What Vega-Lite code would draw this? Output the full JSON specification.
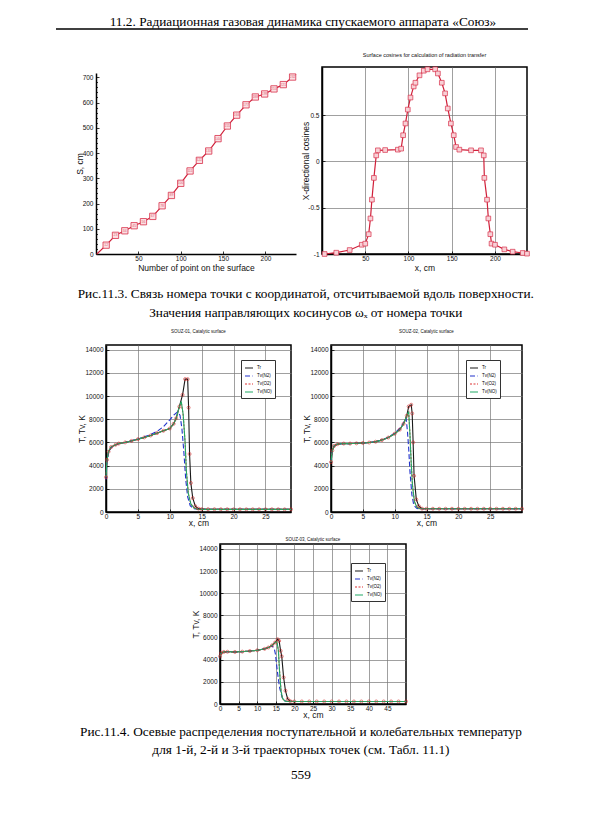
{
"$schema": "https://vega.github.io/schema/vega-lite/v6.json",
"background": "white",
"padding": {"left": 55, "top": 15, "right": 5, "bottom": 5},
"config": {
  "view": {"stroke": null},
  "font": "Liberation Sans",
  "axis": {"labelFont": "Liberation Sans", "labelFontSize": 6.5, "labelColor": "#111", "titleFont": "Liberation Sans", "titleFontSize": 8.5, "titleFontWeight": "normal", "titleColor": "#111", "domainColor": "#000", "domainWidth": 1.5, "tickColor": "#000", "tickWidth": 0.8, "tickSize": -3, "gridColor": "#777", "gridWidth": 0.7, "gridOpacity": 1, "labelFlush": false},
  "axisX": {"labelPadding": 4, "titlePadding": -1},
  "axisY": {"labelPadding": 6, "titlePadding": -2},
  "title": {"font": "Liberation Sans", "fontWeight": "normal", "color": "#111", "anchor": "middle"}
},
"spacing": 8,
"bounds": "full",
"resolve": {"scale": {"color": "independent", "strokeDash": "independent"}, "legend": {"color": "independent", "strokeDash": "independent"}},
"datasets": {
  "c1": [
    {"n": 1, "S": 0, "m": 0},
    {"n": 12, "S": 35, "m": 1},
    {"n": 23, "S": 74, "m": 1},
    {"n": 34, "S": 92, "m": 1},
    {"n": 45, "S": 112, "m": 1},
    {"n": 56, "S": 128, "m": 1},
    {"n": 67, "S": 149, "m": 1},
    {"n": 78, "S": 191, "m": 1},
    {"n": 89, "S": 232, "m": 1},
    {"n": 100, "S": 280, "m": 1},
    {"n": 111, "S": 329, "m": 1},
    {"n": 122, "S": 371, "m": 1},
    {"n": 133, "S": 408, "m": 1},
    {"n": 144, "S": 457, "m": 1},
    {"n": 155, "S": 507, "m": 1},
    {"n": 166, "S": 550, "m": 1},
    {"n": 177, "S": 591, "m": 1},
    {"n": 188, "S": 622, "m": 1},
    {"n": 199, "S": 634, "m": 1},
    {"n": 210, "S": 654, "m": 1},
    {"n": 221, "S": 671, "m": 1},
    {"n": 232, "S": 701, "m": 1},
    {"n": 236, "S": 712, "m": 0}
  ],
  "c2": [
    {"x": 3, "c": -1.0}, {"x": 16.5, "c": -0.986}, {"x": 32, "c": -0.957}, {"x": 46, "c": -0.9}, {"x": 50, "c": -0.888},
    {"x": 54, "c": -0.786}, {"x": 56, "c": -0.616}, {"x": 57.7, "c": -0.413}, {"x": 60, "c": -0.178}, {"x": 62.7, "c": 0.065},
    {"x": 64.6, "c": 0.12}, {"x": 73, "c": 0.123}, {"x": 87.7, "c": 0.127}, {"x": 91.5, "c": 0.138}, {"x": 93.8, "c": 0.283},
    {"x": 96.5, "c": 0.41}, {"x": 99.2, "c": 0.56}, {"x": 102.3, "c": 0.69}, {"x": 106, "c": 0.81}, {"x": 108, "c": 0.85},
    {"x": 112.7, "c": 0.93}, {"x": 117.7, "c": 0.98}, {"x": 122, "c": 0.995}, {"x": 130.8, "c": 0.995}, {"x": 134, "c": 0.95},
    {"x": 138.5, "c": 0.85}, {"x": 142.3, "c": 0.735}, {"x": 145.4, "c": 0.572}, {"x": 149, "c": 0.41}, {"x": 152.3, "c": 0.283},
    {"x": 155, "c": 0.156}, {"x": 158.8, "c": 0.127}, {"x": 172.3, "c": 0.12}, {"x": 183.8, "c": 0.12}, {"x": 187, "c": 0.065},
    {"x": 187.7, "c": -0.178}, {"x": 190.8, "c": -0.413}, {"x": 192.3, "c": -0.616}, {"x": 194.6, "c": -0.786}, {"x": 196, "c": -0.888},
    {"x": 200, "c": -0.9}, {"x": 210.8, "c": -0.95}, {"x": 220.4, "c": -0.975}, {"x": 232, "c": -0.989}, {"x": 237, "c": -0.996}
  ],
  "t3": [
    {"s":"Tr","x":0,"t":3000},{"s":"Tr","x":0.15,"t":4500},{"s":"Tr","x":0.4,"t":5200},{"s":"Tr","x":0.8,"t":5600},{"s":"Tr","x":1.5,"t":5800},{"s":"Tr","x":2,"t":5900},{"s":"Tr","x":3,"t":6000},{"s":"Tr","x":4,"t":6130},{"s":"Tr","x":5,"t":6280},{"s":"Tr","x":6,"t":6430},{"s":"Tr","x":7,"t":6600},{"s":"Tr","x":8,"t":6800},{"s":"Tr","x":9,"t":7000},{"s":"Tr","x":10,"t":7200},{"s":"Tr","x":10.6,"t":7600},{"s":"Tr","x":11,"t":8080},{"s":"Tr","x":11.5,"t":9090},{"s":"Tr","x":12,"t":10100},{"s":"Tr","x":12.4,"t":11460},{"s":"Tr","x":12.8,"t":11460},{"s":"Tr","x":12.95,"t":9000},{"s":"Tr","x":13.1,"t":5000},{"s":"Tr","x":13.3,"t":2500},{"s":"Tr","x":13.6,"t":1200},{"s":"Tr","x":14,"t":500},{"s":"Tr","x":14.5,"t":290},{"s":"Tr","x":15,"t":250},{"s":"Tr","x":16,"t":240},{"s":"Tr","x":17,"t":240},{"s":"Tr","x":18,"t":235},{"s":"Tr","x":19,"t":235},{"s":"Tr","x":20,"t":230},{"s":"Tr","x":21,"t":230},{"s":"Tr","x":22,"t":230},{"s":"Tr","x":23,"t":230},{"s":"Tr","x":24,"t":230},{"s":"Tr","x":25,"t":230},{"s":"Tr","x":26,"t":230},{"s":"Tr","x":27,"t":230},{"s":"Tr","x":28,"t":230},{"s":"Tr","x":29,"t":230},
    {"s":"Tv(N2)","x":0,"t":2800},{"s":"Tv(N2)","x":0.15,"t":4300},{"s":"Tv(N2)","x":0.4,"t":5100},{"s":"Tv(N2)","x":0.8,"t":5550},{"s":"Tv(N2)","x":1.5,"t":5780},{"s":"Tv(N2)","x":2,"t":5880},{"s":"Tv(N2)","x":3,"t":6000},{"s":"Tv(N2)","x":4,"t":6150},{"s":"Tv(N2)","x":5,"t":6300},{"s":"Tv(N2)","x":6,"t":6480},{"s":"Tv(N2)","x":7,"t":6680},{"s":"Tv(N2)","x":8,"t":6950},{"s":"Tv(N2)","x":9,"t":7350},{"s":"Tv(N2)","x":10,"t":7950},{"s":"Tv(N2)","x":10.7,"t":8400},{"s":"Tv(N2)","x":11.2,"t":8620},{"s":"Tv(N2)","x":11.6,"t":8350},{"s":"Tv(N2)","x":11.9,"t":7200},{"s":"Tv(N2)","x":12.2,"t":5200},{"s":"Tv(N2)","x":12.5,"t":2800},{"s":"Tv(N2)","x":12.8,"t":1300},{"s":"Tv(N2)","x":13.2,"t":550},{"s":"Tv(N2)","x":13.7,"t":290},{"s":"Tv(N2)","x":14.5,"t":240},{"s":"Tv(N2)","x":16,"t":230},{"s":"Tv(N2)","x":29,"t":230},
    {"s":"Tv(O2)","x":0,"t":3000},{"s":"Tv(O2)","x":0.15,"t":4450},{"s":"Tv(O2)","x":0.4,"t":5180},{"s":"Tv(O2)","x":0.8,"t":5600},{"s":"Tv(O2)","x":1.5,"t":5800},{"s":"Tv(O2)","x":2,"t":5900},{"s":"Tv(O2)","x":3,"t":6000},{"s":"Tv(O2)","x":4,"t":6130},{"s":"Tv(O2)","x":5,"t":6280},{"s":"Tv(O2)","x":6,"t":6430},{"s":"Tv(O2)","x":7,"t":6600},{"s":"Tv(O2)","x":8,"t":6800},{"s":"Tv(O2)","x":9,"t":7000},{"s":"Tv(O2)","x":10,"t":7200},{"s":"Tv(O2)","x":10.6,"t":7600},{"s":"Tv(O2)","x":11,"t":8080},{"s":"Tv(O2)","x":11.5,"t":9050},{"s":"Tv(O2)","x":11.8,"t":9450},{"s":"Tv(O2)","x":12.1,"t":8350},{"s":"Tv(O2)","x":12.4,"t":6000},{"s":"Tv(O2)","x":12.6,"t":3500},{"s":"Tv(O2)","x":12.9,"t":1600},{"s":"Tv(O2)","x":13.3,"t":700},{"s":"Tv(O2)","x":13.8,"t":350},{"s":"Tv(O2)","x":14.4,"t":230},{"s":"Tv(O2)","x":29,"t":230},
    {"s":"Tv(NO)","x":0,"t":3000},{"s":"Tv(NO)","x":0.15,"t":4500},{"s":"Tv(NO)","x":0.4,"t":5200},{"s":"Tv(NO)","x":0.8,"t":5600},{"s":"Tv(NO)","x":1.5,"t":5800},{"s":"Tv(NO)","x":2,"t":5900},{"s":"Tv(NO)","x":3,"t":6000},{"s":"Tv(NO)","x":4,"t":6130},{"s":"Tv(NO)","x":5,"t":6280},{"s":"Tv(NO)","x":6,"t":6430},{"s":"Tv(NO)","x":7,"t":6600},{"s":"Tv(NO)","x":8,"t":6800},{"s":"Tv(NO)","x":9,"t":7000},{"s":"Tv(NO)","x":10,"t":7200},{"s":"Tv(NO)","x":10.6,"t":7600},{"s":"Tv(NO)","x":11,"t":8080},{"s":"Tv(NO)","x":11.5,"t":9090},{"s":"Tv(NO)","x":11.8,"t":9530},{"s":"Tv(NO)","x":12.1,"t":8400},{"s":"Tv(NO)","x":12.4,"t":6000},{"s":"Tv(NO)","x":12.6,"t":3500},{"s":"Tv(NO)","x":12.9,"t":1600},{"s":"Tv(NO)","x":13.3,"t":700},{"s":"Tv(NO)","x":13.8,"t":350},{"s":"Tv(NO)","x":14.4,"t":230},{"s":"Tv(NO)","x":29,"t":230}
  ],
  "t4": [
    {"s":"Tr","x":0,"t":4300},{"s":"Tr","x":0.2,"t":5300},{"s":"Tr","x":0.5,"t":5700},{"s":"Tr","x":1,"t":5850},{"s":"Tr","x":2,"t":5900},{"s":"Tr","x":3,"t":5900},{"s":"Tr","x":4,"t":5920},{"s":"Tr","x":5,"t":5950},{"s":"Tr","x":6,"t":5990},{"s":"Tr","x":7,"t":6060},{"s":"Tr","x":8,"t":6200},{"s":"Tr","x":9,"t":6420},{"s":"Tr","x":10,"t":6750},{"s":"Tr","x":10.8,"t":7100},{"s":"Tr","x":11.4,"t":7600},{"s":"Tr","x":11.9,"t":8300},{"s":"Tr","x":12.2,"t":9100},{"s":"Tr","x":12.6,"t":9250},{"s":"Tr","x":12.75,"t":8500},{"s":"Tr","x":12.9,"t":6000},{"s":"Tr","x":13.05,"t":3120},{"s":"Tr","x":13.4,"t":1080},{"s":"Tr","x":13.8,"t":500},{"s":"Tr","x":14.3,"t":290},{"s":"Tr","x":15,"t":280},{"s":"Tr","x":16,"t":280},{"s":"Tr","x":17,"t":280},{"s":"Tr","x":18,"t":280},{"s":"Tr","x":19,"t":280},{"s":"Tr","x":20,"t":280},{"s":"Tr","x":21,"t":280},{"s":"Tr","x":22,"t":280},{"s":"Tr","x":23,"t":280},{"s":"Tr","x":24,"t":280},{"s":"Tr","x":25,"t":280},{"s":"Tr","x":26,"t":280},{"s":"Tr","x":27,"t":280},{"s":"Tr","x":28,"t":280},{"s":"Tr","x":29,"t":280},{"s":"Tr","x":30,"t":280},
    {"s":"Tv(N2)","x":0,"t":4300},{"s":"Tv(N2)","x":0.2,"t":5300},{"s":"Tv(N2)","x":0.5,"t":5700},{"s":"Tv(N2)","x":1,"t":5850},{"s":"Tv(N2)","x":2,"t":5900},{"s":"Tv(N2)","x":3,"t":5900},{"s":"Tv(N2)","x":4,"t":5920},{"s":"Tv(N2)","x":5,"t":5950},{"s":"Tv(N2)","x":6,"t":5990},{"s":"Tv(N2)","x":7,"t":6070},{"s":"Tv(N2)","x":8,"t":6220},{"s":"Tv(N2)","x":9,"t":6450},{"s":"Tv(N2)","x":10,"t":6800},{"s":"Tv(N2)","x":10.8,"t":7200},{"s":"Tv(N2)","x":11.4,"t":7700},{"s":"Tv(N2)","x":11.8,"t":8100},{"s":"Tv(N2)","x":12,"t":7000},{"s":"Tv(N2)","x":12.2,"t":5500},{"s":"Tv(N2)","x":12.4,"t":3500},{"s":"Tv(N2)","x":12.7,"t":1500},{"s":"Tv(N2)","x":13,"t":600},{"s":"Tv(N2)","x":13.5,"t":300},{"s":"Tv(N2)","x":14,"t":280},{"s":"Tv(N2)","x":30,"t":280},
    {"s":"Tv(O2)","x":0,"t":4300},{"s":"Tv(O2)","x":0.2,"t":5300},{"s":"Tv(O2)","x":0.5,"t":5700},{"s":"Tv(O2)","x":1,"t":5850},{"s":"Tv(O2)","x":2,"t":5900},{"s":"Tv(O2)","x":5,"t":5950},{"s":"Tv(O2)","x":7,"t":6060},{"s":"Tv(O2)","x":8,"t":6200},{"s":"Tv(O2)","x":9,"t":6420},{"s":"Tv(O2)","x":10,"t":6750},{"s":"Tv(O2)","x":10.8,"t":7100},{"s":"Tv(O2)","x":11.4,"t":7600},{"s":"Tv(O2)","x":11.9,"t":8300},{"s":"Tv(O2)","x":12.2,"t":8600},{"s":"Tv(O2)","x":12.4,"t":6700},{"s":"Tv(O2)","x":12.6,"t":4200},{"s":"Tv(O2)","x":12.8,"t":2300},{"s":"Tv(O2)","x":13.1,"t":900},{"s":"Tv(O2)","x":13.5,"t":400},{"s":"Tv(O2)","x":14,"t":280},{"s":"Tv(O2)","x":30,"t":280},
    {"s":"Tv(NO)","x":0,"t":4300},{"s":"Tv(NO)","x":0.2,"t":5300},{"s":"Tv(NO)","x":0.5,"t":5700},{"s":"Tv(NO)","x":1,"t":5850},{"s":"Tv(NO)","x":2,"t":5900},{"s":"Tv(NO)","x":3,"t":5900},{"s":"Tv(NO)","x":4,"t":5920},{"s":"Tv(NO)","x":5,"t":5950},{"s":"Tv(NO)","x":6,"t":5990},{"s":"Tv(NO)","x":7,"t":6060},{"s":"Tv(NO)","x":8,"t":6200},{"s":"Tv(NO)","x":9,"t":6420},{"s":"Tv(NO)","x":10,"t":6750},{"s":"Tv(NO)","x":10.8,"t":7100},{"s":"Tv(NO)","x":11.4,"t":7600},{"s":"Tv(NO)","x":11.9,"t":8300},{"s":"Tv(NO)","x":12.2,"t":8660},{"s":"Tv(NO)","x":12.4,"t":6700},{"s":"Tv(NO)","x":12.6,"t":4200},{"s":"Tv(NO)","x":12.8,"t":2300},{"s":"Tv(NO)","x":13.1,"t":900},{"s":"Tv(NO)","x":13.5,"t":400},{"s":"Tv(NO)","x":14,"t":280},{"s":"Tv(NO)","x":30,"t":280}
  ],
  "t5": [
    {"s":"Tr","x":0,"t":4300},{"s":"Tr","x":0.3,"t":4600},{"s":"Tr","x":1,"t":4700},{"s":"Tr","x":2,"t":4720},{"s":"Tr","x":4,"t":4700},{"s":"Tr","x":6,"t":4730},{"s":"Tr","x":8,"t":4780},{"s":"Tr","x":10,"t":4850},{"s":"Tr","x":12,"t":4980},{"s":"Tr","x":13,"t":5100},{"s":"Tr","x":14,"t":5300},{"s":"Tr","x":14.8,"t":5550},{"s":"Tr","x":15.5,"t":5850},{"s":"Tr","x":15.9,"t":5700},{"s":"Tr","x":16.3,"t":4800},{"s":"Tr","x":16.6,"t":4300},{"s":"Tr","x":17.1,"t":2400},{"s":"Tr","x":17.6,"t":1200},{"s":"Tr","x":18.2,"t":450},{"s":"Tr","x":18.9,"t":260},{"s":"Tr","x":20,"t":230},{"s":"Tr","x":22,"t":230},{"s":"Tr","x":24,"t":230},{"s":"Tr","x":26,"t":230},{"s":"Tr","x":28,"t":230},{"s":"Tr","x":30,"t":230},{"s":"Tr","x":32,"t":230},{"s":"Tr","x":34,"t":230},{"s":"Tr","x":36,"t":230},{"s":"Tr","x":38,"t":230},{"s":"Tr","x":40,"t":230},{"s":"Tr","x":42,"t":230},{"s":"Tr","x":44,"t":230},{"s":"Tr","x":46,"t":230},{"s":"Tr","x":48,"t":230},{"s":"Tr","x":50,"t":230},
    {"s":"Tv(N2)","x":0,"t":4300},{"s":"Tv(N2)","x":0.3,"t":4600},{"s":"Tv(N2)","x":1,"t":4700},{"s":"Tv(N2)","x":2,"t":4720},{"s":"Tv(N2)","x":4,"t":4700},{"s":"Tv(N2)","x":6,"t":4730},{"s":"Tv(N2)","x":8,"t":4780},{"s":"Tv(N2)","x":10,"t":4850},{"s":"Tv(N2)","x":12,"t":4980},{"s":"Tv(N2)","x":13,"t":5100},{"s":"Tv(N2)","x":14,"t":5250},{"s":"Tv(N2)","x":14.6,"t":5000},{"s":"Tv(N2)","x":14.9,"t":4500},{"s":"Tv(N2)","x":15.4,"t":3000},{"s":"Tv(N2)","x":16,"t":1500},{"s":"Tv(N2)","x":16.7,"t":600},{"s":"Tv(N2)","x":17.3,"t":300},{"s":"Tv(N2)","x":18,"t":230},{"s":"Tv(N2)","x":50,"t":230},
    {"s":"Tv(O2)","x":0,"t":4300},{"s":"Tv(O2)","x":0.3,"t":4600},{"s":"Tv(O2)","x":1,"t":4700},{"s":"Tv(O2)","x":2,"t":4720},{"s":"Tv(O2)","x":4,"t":4700},{"s":"Tv(O2)","x":6,"t":4730},{"s":"Tv(O2)","x":8,"t":4780},{"s":"Tv(O2)","x":10,"t":4850},{"s":"Tv(O2)","x":12,"t":4980},{"s":"Tv(O2)","x":13,"t":5100},{"s":"Tv(O2)","x":14,"t":5300},{"s":"Tv(O2)","x":14.8,"t":5550},{"s":"Tv(O2)","x":15.3,"t":5600},{"s":"Tv(O2)","x":15.7,"t":4800},{"s":"Tv(O2)","x":16,"t":3000},{"s":"Tv(O2)","x":16.4,"t":1200},{"s":"Tv(O2)","x":16.8,"t":500},{"s":"Tv(O2)","x":17.4,"t":280},{"s":"Tv(O2)","x":18,"t":230},{"s":"Tv(O2)","x":50,"t":230},
    {"s":"Tv(NO)","x":0,"t":4300},{"s":"Tv(NO)","x":0.3,"t":4600},{"s":"Tv(NO)","x":1,"t":4700},{"s":"Tv(NO)","x":2,"t":4720},{"s":"Tv(NO)","x":4,"t":4700},{"s":"Tv(NO)","x":6,"t":4730},{"s":"Tv(NO)","x":8,"t":4780},{"s":"Tv(NO)","x":10,"t":4850},{"s":"Tv(NO)","x":12,"t":4980},{"s":"Tv(NO)","x":13,"t":5100},{"s":"Tv(NO)","x":14,"t":5300},{"s":"Tv(NO)","x":14.8,"t":5550},{"s":"Tv(NO)","x":15.3,"t":5650},{"s":"Tv(NO)","x":15.7,"t":4800},{"s":"Tv(NO)","x":16,"t":3000},{"s":"Tv(NO)","x":16.4,"t":1200},{"s":"Tv(NO)","x":16.8,"t":500},{"s":"Tv(NO)","x":17.4,"t":280},{"s":"Tv(NO)","x":18,"t":230},{"s":"Tv(NO)","x":50,"t":230}
  ],
  "none": []
},
"vconcat": [
  {
    "width": 472, "height": 15,
    "title": {"text": "11.2. Радиационная газовая динамика спускаемого аппарата «Союз»", "font": "Liberation Serif", "fontSize": 13.3, "fontWeight": "normal", "color": "black", "offset": 0, "dx": 11},
    "data": {"values": [{"a": 0, "b": 1, "y": 1}]},
    "mark": {"type": "rule", "color": "black", "strokeWidth": 1.3},
    "encoding": {
      "x": {"field": "a", "type": "quantitative", "scale": {"domain": [0, 1]}, "axis": null},
      "x2": {"field": "b"},
      "y": {"field": "y", "type": "quantitative", "scale": {"domain": [0, 1]}, "axis": null}
    }
  },
  {
    "bounds": "flush",
    "spacing": 26,
    "title": {"text": ["Рис.11.3. Связь номера точки с координатой, отсчитываемой вдоль поверхности.", "Значения направляющих косинусов  ωₓ от номера точки"], "orient": "bottom", "font": "Liberation Serif", "fontSize": 13.3, "fontWeight": "normal", "color": "black", "lineHeight": 19, "offset": 14.5, "dx": 12},
    "hconcat": [
      {"width": 14, "height": 10, "data": {"name": "none"}, "mark": "point"},
      {
        "width": 200, "height": 187,
        "data": {"name": "c1"},
        "encoding": {
          "x": {"field": "n", "type": "quantitative", "scale": {"domain": [0, 236], "nice": false, "zero": false},
                "axis": {"values": [50, 100, 150, 200], "title": "Number of point on the surface", "titlePadding": 1.5, "grid": false}},
          "y": {"field": "S", "type": "quantitative", "scale": {"domain": [0, 717], "range": [187, 6], "nice": false},
                "axis": {"values": [0,20,40,60,80,100,120,140,160,180,200,220,240,260,280,300,320,340,360,380,400,420,440,460,480,500,520,540,560,580,600,620,640,660,680,700],
                         "labelExpr": "datum.value % 100 === 0 ? datum.label : ''",
                         "tickSize": {"condition": {"test": "datum.value % 100 !== 0", "value": -1.5}, "value": -3},
                         "title": "S, cm", "grid": false}}
        },
        "layer": [
          {"mark": {"type": "line", "color": "#d0203a", "strokeWidth": 1.2}},
          {"transform": [{"filter": "datum.m === 1"}], "mark": {"type": "point", "shape": "square", "size": 40, "filled": true, "fill": "#fbe0e3", "stroke": "#d8304a", "strokeWidth": 0.8, "opacity": 1}},
          {"transform": [{"filter": "datum.m === 1"}], "mark": {"type": "text", "fontSize": 3.5, "color": "#e06074"}, "encoding": {"text": {"field": "n", "type": "quantitative"}}}
        ]
      },
      {
        "width": 205, "height": 187,
        "view": {"stroke": "black", "strokeWidth": 1.5},
        "title": {"text": "Surface cosines for calculation of radiation transfer", "fontSize": 5.5, "offset": 7},
        "data": {"name": "c2"},
        "encoding": {
          "x": {"field": "x", "type": "quantitative", "scale": {"domain": [0, 237], "nice": false, "zero": false},
                "axis": {"values": [50, 100, 150, 200], "title": "x, cm", "titlePadding": 1.5, "grid": true}},
          "y": {"field": "c", "type": "quantitative", "scale": {"domain": [-1, 1.02], "nice": false, "zero": false},
                "axis": {"values": [-1, -0.5, 0, 0.5], "labelExpr": "'' + datum.value", "title": "X-directional cosines", "titlePadding": -3, "grid": true}}
        },
        "layer": [
          {"mark": {"type": "line", "color": "#d0203a", "strokeWidth": 1.2}},
          {"mark": {"type": "point", "shape": "square", "size": 22, "filled": true, "fill": "#f8d0d6", "stroke": "#d8304a", "strokeWidth": 0.7, "opacity": 1}}
        ]
      }
    ]
  },
  {
    "bounds": "flush",
    "spacing": 40,
    "hconcat": [
      {"width": 10, "height": 10, "data": {"name": "none"}, "mark": "point"},
      {
        "width": 185, "height": 167,
        "view": {"stroke": "black", "strokeWidth": 1.5},
        "title": {"text": "SOUZ-01, Catalytic surface", "fontSize": 4.5, "offset": 11.5},
        "data": {"name": "t3"},
        "encoding": {
          "x": {"field": "x", "type": "quantitative", "scale": {"domain": [0, 29], "nice": false, "zero": false},
                "axis": {"values": [0, 5, 10, 15, 20, 25], "title": "x, cm", "grid": true}},
          "y": {"field": "t", "type": "quantitative", "scale": {"domain": [0, 14400], "nice": false},
                "axis": {"values": [0, 2000, 4000, 6000, 8000, 10000, 12000, 14000], "format": "d", "title": "T, Tv, K", "grid": true}}
        },
        "layer": [
          {"mark": {"type": "line", "strokeWidth": 1.1},
           "encoding": {
             "color": {"field": "s", "type": "nominal", "scale": {"domain": ["Tr", "Tv(N2)", "Tv(O2)", "Tv(NO)"], "range": ["#1a1a1a", "#2233cc", "#dd3333", "#22aa66"]},
                       "legend": {"orient": "none", "legendX": 135, "legendY": 15, "title": null, "symbolType": "stroke", "symbolSize": 64, "symbolStrokeWidth": 1.1, "labelFontSize": 4.5, "labelFont": "Liberation Sans", "strokeColor": "#333", "fillColor": "white", "padding": 3, "rowPadding": 0, "labelOffset": 3}},
             "strokeDash": {"field": "s", "type": "nominal", "scale": {"domain": ["Tr", "Tv(N2)", "Tv(O2)", "Tv(NO)"], "range": [[1, 0], [5, 2.5], [2, 1.5], [1, 0]]},
                       "legend": {"orient": "none", "legendX": 135, "legendY": 15, "title": null, "symbolType": "stroke", "symbolSize": 64, "symbolStrokeWidth": 1.1, "labelFontSize": 4.5, "labelFont": "Liberation Sans", "strokeColor": "#333", "fillColor": "white", "padding": 3, "rowPadding": 0, "labelOffset": 3}}
           }},
          {"transform": [{"filter": "datum.s === 'Tr'"}], "mark": {"type": "point", "shape": "circle", "size": 9, "color": "#d02020", "strokeWidth": 0.8, "filled": false}}
        ]
      },
      {
        "width": 191, "height": 167,
        "view": {"stroke": "black", "strokeWidth": 1.5},
        "title": {"text": "SOUZ-02, Catalytic surface", "fontSize": 4.5, "offset": 11.5},
        "data": {"name": "t4"},
        "encoding": {
          "x": {"field": "x", "type": "quantitative", "scale": {"domain": [0, 30], "nice": false, "zero": false},
                "axis": {"values": [0, 5, 10, 15, 20, 25], "title": "x, cm", "grid": true}},
          "y": {"field": "t", "type": "quantitative", "scale": {"domain": [0, 14400], "nice": false},
                "axis": {"values": [0, 2000, 4000, 6000, 8000, 10000, 12000, 14000], "format": "d", "title": "T, Tv, K", "grid": true}}
        },
        "layer": [
          {"mark": {"type": "line", "strokeWidth": 1.1},
           "encoding": {
             "color": {"field": "s", "type": "nominal", "scale": {"domain": ["Tr", "Tv(N2)", "Tv(O2)", "Tv(NO)"], "range": ["#1a1a1a", "#2233cc", "#dd3333", "#22aa66"]},
                       "legend": {"orient": "none", "legendX": 135, "legendY": 15, "title": null, "symbolType": "stroke", "symbolSize": 64, "symbolStrokeWidth": 1.1, "labelFontSize": 4.5, "labelFont": "Liberation Sans", "strokeColor": "#333", "fillColor": "white", "padding": 3, "rowPadding": 0, "labelOffset": 3}},
             "strokeDash": {"field": "s", "type": "nominal", "scale": {"domain": ["Tr", "Tv(N2)", "Tv(O2)", "Tv(NO)"], "range": [[1, 0], [5, 2.5], [2, 1.5], [1, 0]]},
                       "legend": {"orient": "none", "legendX": 135, "legendY": 15, "title": null, "symbolType": "stroke", "symbolSize": 64, "symbolStrokeWidth": 1.1, "labelFontSize": 4.5, "labelFont": "Liberation Sans", "strokeColor": "#333", "fillColor": "white", "padding": 3, "rowPadding": 0, "labelOffset": 3}}
           }},
          {"transform": [{"filter": "datum.s === 'Tr'"}], "mark": {"type": "point", "shape": "circle", "size": 9, "color": "#d02020", "strokeWidth": 0.8, "filled": false}}
        ]
      }
    ],
    "resolve": {"scale": {"color": "independent", "strokeDash": "independent"}, "legend": {"color": "independent", "strokeDash": "independent"}}
  },
  {
    "bounds": "flush",
    "spacing": 0,
    "title": {"text": ["Рис.11.4. Осевые распределения поступательной и колебательных температур", "для 1-й, 2-й и 3-й траекторных точек (см. Табл. 11.1)"], "subtitle": "559", "orient": "bottom", "font": "Liberation Serif", "fontSize": 13.3, "fontWeight": "normal", "color": "black", "lineHeight": 18, "offset": 5, "dx": 68, "subtitleFont": "Liberation Serif", "subtitleFontSize": 13.3, "subtitleColor": "black", "subtitlePadding": 12},
    "hconcat": [
      {"width": 164, "height": 10, "data": {"name": "none"}, "mark": "point"},
      {
        "width": 186, "height": 160,
        "view": {"stroke": "black", "strokeWidth": 1.5},
        "title": {"text": "SOUZ-03, Catalytic surface", "fontSize": 4.5, "offset": 2.5},
        "data": {"name": "t5"},
        "encoding": {
          "x": {"field": "x", "type": "quantitative", "scale": {"domain": [0, 50], "nice": false, "zero": false},
                "axis": {"values": [0, 5, 10, 15, 20, 25, 30, 35, 40, 45], "title": "x, cm", "grid": true}},
          "y": {"field": "t", "type": "quantitative", "scale": {"domain": [0, 14450], "nice": false},
                "axis": {"values": [0, 2000, 4000, 6000, 8000, 10000, 12000, 14000], "format": "d", "title": "T, Tv, K", "grid": true}}
        },
        "layer": [
          {"mark": {"type": "line", "strokeWidth": 1.1},
           "encoding": {
             "color": {"field": "s", "type": "nominal", "scale": {"domain": ["Tr", "Tv(N2)", "Tv(O2)", "Tv(NO)"], "range": ["#1a1a1a", "#2233cc", "#dd3333", "#22aa66"]},
                       "legend": {"orient": "none", "legendX": 131, "legendY": 19, "title": null, "symbolType": "stroke", "symbolSize": 64, "symbolStrokeWidth": 1.1, "labelFontSize": 4.5, "labelFont": "Liberation Sans", "strokeColor": "#333", "fillColor": "white", "padding": 3, "rowPadding": 0, "labelOffset": 3}},
             "strokeDash": {"field": "s", "type": "nominal", "scale": {"domain": ["Tr", "Tv(N2)", "Tv(O2)", "Tv(NO)"], "range": [[1, 0], [5, 2.5], [2, 1.5], [1, 0]]},
                       "legend": {"orient": "none", "legendX": 131, "legendY": 19, "title": null, "symbolType": "stroke", "symbolSize": 64, "symbolStrokeWidth": 1.1, "labelFontSize": 4.5, "labelFont": "Liberation Sans", "strokeColor": "#333", "fillColor": "white", "padding": 3, "rowPadding": 0, "labelOffset": 3}}
           }},
          {"transform": [{"filter": "datum.s === 'Tr'"}], "mark": {"type": "point", "shape": "circle", "size": 9, "color": "#d02020", "strokeWidth": 0.8, "filled": false}}
        ]
      }
    ],
    "resolve": {"scale": {"color": "independent", "strokeDash": "independent"}, "legend": {"color": "independent", "strokeDash": "independent"}}
  }
]
}
